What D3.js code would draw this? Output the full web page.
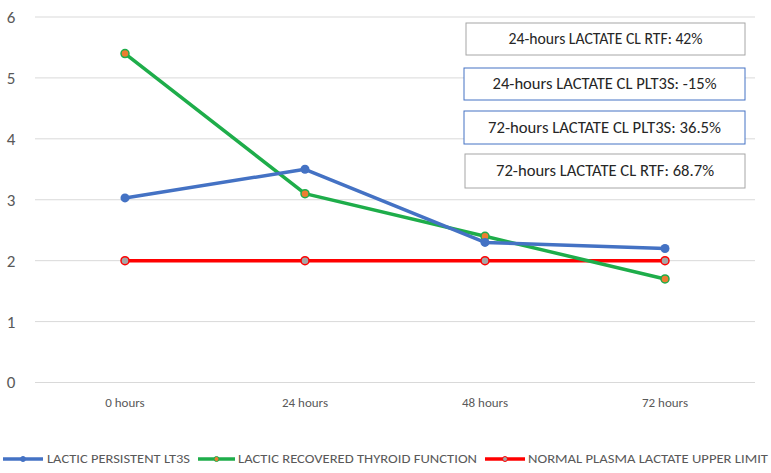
<!DOCTYPE html>
<html>
<head>
<meta charset="utf-8">
<script src="https://cdn.jsdelivr.net/npm/d3@7"></script>
<style>
  body { margin: 0; background: #fff; }
  svg { display: block; font-family: Carlito, Lato, "Liberation Sans", sans-serif; }
</style>
</head>
<body>
<script>
const categories = ["0 hours", "24 hours", "48 hours", "72 hours"];
const persistentLT3S = [3.03, 3.5, 2.3, 2.2];
const recoveredThyroid = [5.4, 3.1, 2.4, 1.7];
const upperLimit = [2, 2, 2, 2];
const yTicks = [0, 1, 2, 3, 4, 5, 6];
const notes = [
  "24-hours LACTATE CL RTF: 42%",
  "24-hours LACTATE CL PLT3S: -15%",
  "72-hours LACTATE CL PLT3S: 36.5%",
  "72-hours LACTATE CL RTF: 68.7%"
];
const seriesNames = ["LACTIC PERSISTENT LT3S", "LACTIC RECOVERED THYROID FUNCTION", "NORMAL PLASMA LACTATE UPPER LIMIT"];

const width = 771, height = 473;
const svg = d3.select("body").append("svg")
    .attr("width", width)
    .attr("height", height);

const x = d3.scalePoint()
    .domain(categories)
    .range([35, 755])
    .padding(0.5);

const y = d3.scaleLinear()
    .domain([0, 6])
    .range([382.5, 17]);

// gridlines
svg.append("g")
  .selectAll("line")
  .data(yTicks)
  .join("line")
    .attr("x1", 35)
    .attr("x2", 755)
    .attr("y1", d => y(d))
    .attr("y2", d => y(d))
    .attr("stroke", "#d9d9d9")
    .attr("stroke-width", 1);

// y labels
svg.append("g")
  .selectAll("text")
  .data(yTicks)
  .join("text")
    .attr("x", 11)
    .attr("y", d => y(d))
    .attr("dy", "0.35em")
    .attr("text-anchor", "middle")
    .attr("fill", "#595959")
    .style("font-size", "17px")
    .text(d => d);

// x labels
svg.append("g")
  .selectAll("text")
  .data(categories)
  .join("text")
    .attr("x", d => x(d))
    .attr("y", 407)
    .attr("text-anchor", "middle")
    .attr("fill", "#595959")
    .style("font-size", "13px")
    .text(d => d);

const series = [
  { name: seriesNames[0], values: persistentLT3S, color: "#4472c4", fill: "#4472c4", r: 4.5 },
  { name: seriesNames[1], values: recoveredThyroid, color: "#1ead4a", fill: "#ed7d31", r: 4 },
  { name: seriesNames[2], values: upperLimit, color: "#ff0000", fill: "#a5a5a5", r: 4 }
];

const line = d3.line()
    .x((d, i) => x(categories[i]))
    .y(d => y(d));

// red first, then green, blue on top
const order = [series[2], series[1], series[0]];
order.forEach(s => {
  svg.append("path")
      .datum(s.values)
      .attr("fill", "none")
      .attr("stroke", s.color)
      .attr("stroke-width", 3.5)
      .attr("stroke-linejoin", "round")
      .attr("d", line);
  svg.append("g")
    .selectAll("circle")
    .data(s.values)
    .join("circle")
      .attr("cx", (d, i) => x(categories[i]))
      .attr("cy", d => y(d))
      .attr("r", s.r)
      .attr("fill", s.fill)
      .attr("stroke", s.color)
      .attr("stroke-width", s.color === "#4472c4" ? 0 : 1.5);
});

// note boxes
const boxes = [
  { x: 466, y: 23, w: 279, h: 32, stroke: "#a6a6a6", tw: 194 },
  { x: 464, y: 68, w: 281, h: 32, stroke: "#4472c4", tw: 224 },
  { x: 464, y: 111, w: 281, h: 33, stroke: "#4472c4", tw: 233 },
  { x: 465, y: 154, w: 280, h: 34, stroke: "#a6a6a6", tw: 218 }
];
const nb = svg.append("g")
  .selectAll("g")
  .data(notes)
  .join("g");
nb.append("rect")
    .attr("x", (d, i) => boxes[i].x)
    .attr("y", (d, i) => boxes[i].y)
    .attr("width", (d, i) => boxes[i].w)
    .attr("height", (d, i) => boxes[i].h)
    .attr("fill", "#fff")
    .attr("stroke", (d, i) => boxes[i].stroke)
    .attr("stroke-width", 1);
nb.append("text")
    .attr("x", (d, i) => boxes[i].x + boxes[i].w / 2)
    .attr("y", (d, i) => boxes[i].y + boxes[i].h / 2)
    .attr("dy", "0.35em")
    .attr("text-anchor", "middle")
    .attr("fill", "#262626")
    .style("font-size", "15.5px")
    .attr("textLength", (d, i) => boxes[i].tw)
    .attr("lengthAdjust", "spacingAndGlyphs")
    .text(d => d);

// legend
const legendPos = [
  { lx: 3, lw: 40, tx: 47, tw: 143 },
  { lx: 198, lw: 37, tx: 238, tw: 239 },
  { lx: 485, lw: 40, tx: 528, tw: 240 }
];
const lg = svg.append("g")
  .selectAll("g")
  .data(series)
  .join("g");
lg.append("line")
    .attr("x1", (d, i) => legendPos[i].lx)
    .attr("x2", (d, i) => legendPos[i].lx + legendPos[i].lw)
    .attr("y1", 459)
    .attr("y2", 459)
    .attr("stroke", d => d.color)
    .attr("stroke-width", 3.5);
lg.append("circle")
    .attr("cx", (d, i) => legendPos[i].lx + legendPos[i].lw / 2)
    .attr("cy", 459)
    .attr("r", 2.5)
    .attr("fill", d => d.fill)
    .attr("stroke", d => d.color)
    .attr("stroke-width", 1);
lg.append("text")
    .attr("x", (d, i) => legendPos[i].tx)
    .attr("y", 459)
    .attr("dy", "0.35em")
    .attr("fill", "#595959")
    .style("font-size", "12.5px")
    .attr("textLength", (d, i) => legendPos[i].tw)
    .attr("lengthAdjust", "spacingAndGlyphs")
    .text(d => d.name);
</script>
</body>
</html>
